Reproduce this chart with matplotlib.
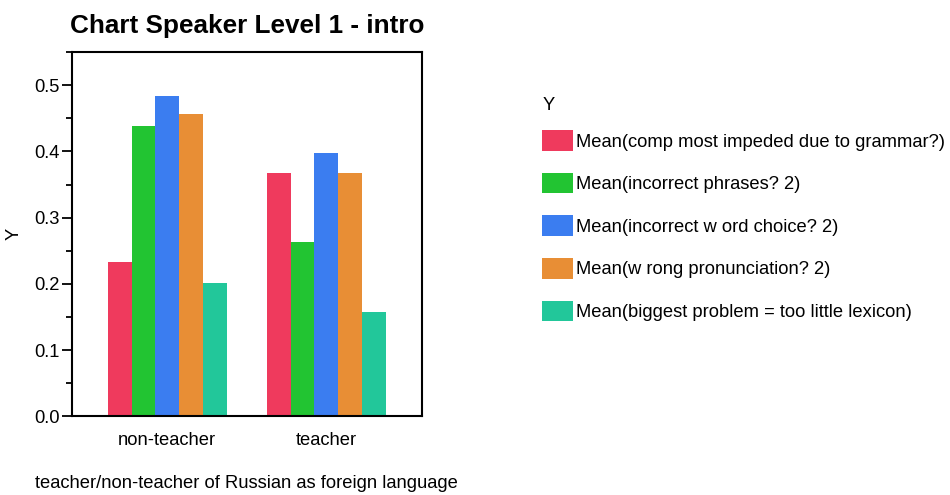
import matplotlib
matplotlib.use("Agg")
import matplotlib.pyplot as plt
import numpy as np
from matplotlib.ticker import MultipleLocator

plt.rcParams['font.family'] = ['Liberation Sans', 'DejaVu Sans']

groups = ["non-teacher", "teacher"]
series = [
    "Mean(comp most impeded due to grammar?)",
    "Mean(incorrect phrases? 2)",
    "Mean(incorrect w ord choice? 2)",
    "Mean(w rong pronunciation? 2)",
    "Mean(biggest problem = too little lexicon)",
]
grammar = [0.233, 0.368]
phrases = [0.439, 0.264]
word_choice = [0.484, 0.397]
pronunciation = [0.456, 0.368]
lexicon = [0.202, 0.157]
colors = ["#EF3A5D", "#22C432", "#3B7DF0", "#E88E35", "#22C79A"]

fs = 13.2

fig = plt.figure(figsize=(9.5, 4.95), dpi=100)
ax = fig.add_axes([0.0758, 0.1586, 0.368, 0.7363])

x = np.arange(len(groups))
w = 0.15
handles = []
for i, vals in enumerate([grammar, phrases, word_choice, pronunciation, lexicon]):
    h = ax.bar(x + (i - 2) * w, vals, width=w, color=colors[i], label=series[i])
    handles.append(h)

ax.set_xlim(-0.6, 1.6)
ax.set_ylim(0, 0.55)
ax.set_xticks(x)
ax.set_xticklabels(groups, fontsize=fs)
ax.tick_params(axis='x', length=0, pad=11)
ax.yaxis.set_minor_locator(MultipleLocator(0.05))
ax.set_yticks(np.arange(0, 0.51, 0.1))
ax.set_yticklabels([f"{v:.1f}" for v in np.arange(0, 0.51, 0.1)], fontsize=fs)
ax.tick_params(axis='y', which='major', length=7, width=1.3, pad=2)
ax.tick_params(axis='y', which='minor', length=4, width=1.3)
for s in ax.spines.values():
    s.set_linewidth(1.5)
ax.set_ylabel("Y", fontsize=fs, labelpad=8)
ax.set_title("Chart Speaker Level 1 - intro", fontsize=18.8, fontweight='bold', pad=14)

fig.text(35 / 950, 1 - 484 / 495, "teacher/non-teacher of Russian as foreign language",
         fontsize=fs, va='center', ha='left')

# legend title drawn separately so its gap to the entries matches
fig.text(543 / 950, 1 - 105 / 495, "Y", fontsize=fs, va='center', ha='left')
fig.legend(handles=handles, labels=series, loc='upper left',
           bbox_to_anchor=(535 / 950, 1 - 123 / 495), frameon=False, fontsize=fs,
           handlelength=1.65, handleheight=1.35, handletextpad=0.2,
           labelspacing=1.2, borderaxespad=0)

fig.savefig("out.png", dpi=100)
